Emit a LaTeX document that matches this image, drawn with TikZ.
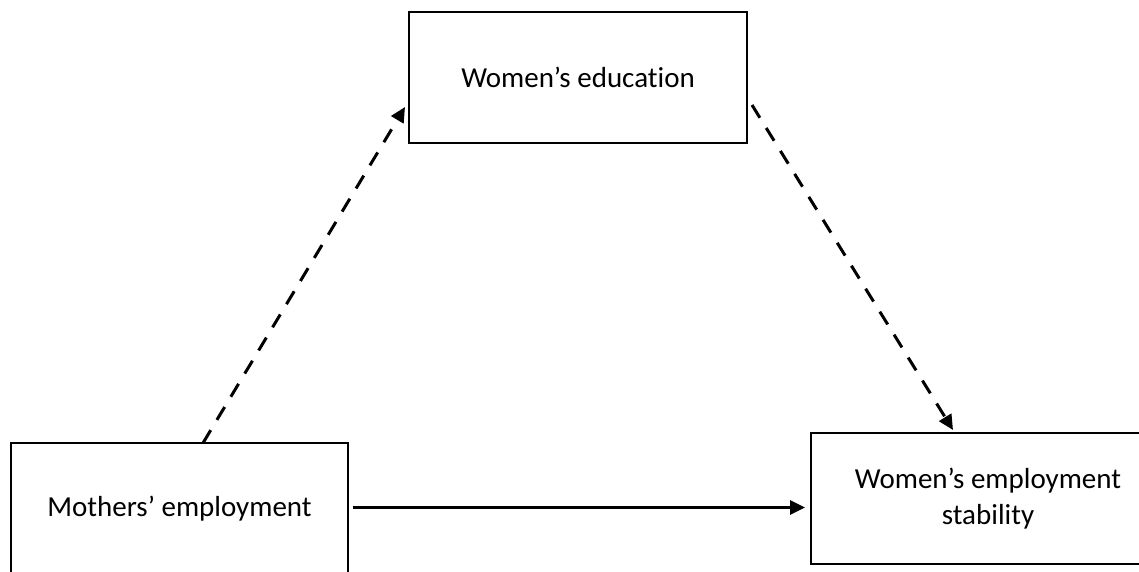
\documentclass[tikz,border=0pt]{standalone}
\usepackage{fontspec}
\setmainfont{Carlito}[Ligatures={TeX,NoCommon}]
\usetikzlibrary{arrows.meta}

\begin{document}
\begin{tikzpicture}[x=1pt, y=-1pt]
	\useasboundingbox (0,0) rectangle (1139,571);
	\clip (0,0) rectangle (1139,571);
	
	% BOXES
	\tikzstyle{every node}=[rectangle, fill=white, draw=black, line width=2.5pt, outer sep=0pt, minimum height=131pt, align=center, font=\fontsize{29}{36}\selectfont]
	\path (578, 77.5) node[minimum width=338pt] (edu) {Women’s education};
	\path (179.5, 508.5) node[minimum width=337pt] (moth) {Mothers’ employment};
	\path (988, 498.5) node[minimum width=354pt] (stab) {Women’s employment\\stability};
	
	% PATHS
	\tikzstyle{link}=[line width=3pt, -{Triangle[length=15pt,width=14pt]}]
	\tikzstyle{mediated}=[link, dash pattern=on 15pt off 12pt]
	\draw[mediated] ([xshift=23.5pt]moth.north) -- ([xshift=-4pt,yshift=-29.5pt]edu.west);
	\draw[mediated] ([xshift=5pt,yshift=-27.5pt]edu.east) -- ([xshift=-35pt,yshift=3pt]stab.north);
	\draw[link] ([xshift=5pt,yshift=1pt]moth.east) -- ([xshift=-6pt,yshift=-9pt]stab.west);
	
\end{tikzpicture}
\end{document}
